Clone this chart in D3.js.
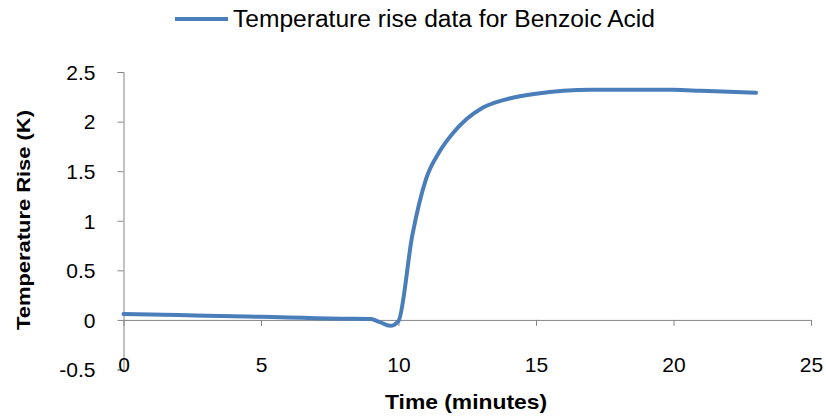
<!DOCTYPE html>
<html><head><meta charset="utf-8">
<script src="https://cdn.jsdelivr.net/npm/d3@7/dist/d3.min.js"></script>
<style>
html,body{margin:0;padding:0;background:#fff;}
text{font-family:"Liberation Sans",Arial,sans-serif;fill:#000;}
</style></head>
<body>
<svg id="chart" width="826" height="416"></svg>
<script>
const seriesName = "Temperature rise data for Benzoic Acid";
const timeMin = [0,1,2,3,4,5,6,7,8,9,9.3,9.7,10,10.5,11,11.5,12,12.5,13,13.5,14,15,16,17,18,19,20,21,22,23];
const tempRise = [0.06,0.055,0.05,0.043,0.037,0.031,0.025,0.018,0.012,0.008,-0.02,-0.06,-0.01,0.85,1.42,1.70,1.89,2.03,2.13,2.19,2.23,2.28,2.31,2.32,2.32,2.32,2.32,2.31,2.30,2.29];
const xTicks = [0,5,10,15,20,25];
const yTicks = [-0.5,0,0.5,1,1.5,2,2.5];
const xTitle = "Time (minutes)";
const yTitle = "Temperature Rise (K)";

const svg = d3.select("#chart");
const x = d3.scaleLinear().domain([0,25]).range([123.5,811]);
const y = d3.scaleLinear().domain([-0.5,2.5]).range([369.5,72]);
const axisColor = "#868686";

// y axis
const yAxis = svg.append("g").attr("transform",`translate(${x(0)},0)`)
  .call(d3.axisLeft(y).tickValues(yTicks).tickSize(6).tickPadding(22).tickFormat(d=>String(d)));
yAxis.select(".domain").attr("stroke",axisColor);
yAxis.selectAll(".tick line").attr("stroke",axisColor);
yAxis.selectAll("text").style("font-size","21px").attr("fill","#000").attr("dy","0.35em");

// x axis at y=0
const xAxis = svg.append("g").attr("transform",`translate(0,${y(0)})`)
  .call(d3.axisBottom(x).tickValues(xTicks).tickSize(6).tickSizeOuter(0).tickFormat(d=>String(d)));
xAxis.select(".domain").attr("stroke",axisColor);
xAxis.selectAll(".tick line").attr("stroke",axisColor);
xAxis.selectAll("text").style("font-size","21px").attr("fill","#000")
  .attr("y", 52).attr("dy","0");

// line
const line = d3.line().x((d,i)=>x(timeMin[i])).y(d=>y(d)).curve(d3.curveMonotoneX);
svg.append("path").datum(tempRise).attr("d",line)
  .attr("fill","none").attr("stroke","#4a7ebb").attr("stroke-width",4)
  .attr("stroke-linecap","round").attr("stroke-linejoin","round");

// legend
svg.append("line").attr("x1",175).attr("x2",228).attr("y1",19).attr("y2",19)
  .attr("stroke","#4a7ebb").attr("stroke-width",4);
svg.append("text").attr("x",233).attr("y",27).style("font-size","23px")
  .attr("textLength",422).attr("lengthAdjust","spacingAndGlyphs").text(seriesName);

// axis titles
svg.append("text").attr("x",466).attr("y",409).attr("text-anchor","middle")
  .style("font-size","21px").style("font-weight","bold")
  .attr("textLength",162).attr("lengthAdjust","spacingAndGlyphs").text(xTitle);
svg.append("text").attr("transform","translate(30,220) rotate(-90)").attr("text-anchor","middle")
  .style("font-size","19px").style("font-weight","bold")
  .attr("textLength",220).attr("lengthAdjust","spacingAndGlyphs").text(yTitle);
</script>
</body></html>
